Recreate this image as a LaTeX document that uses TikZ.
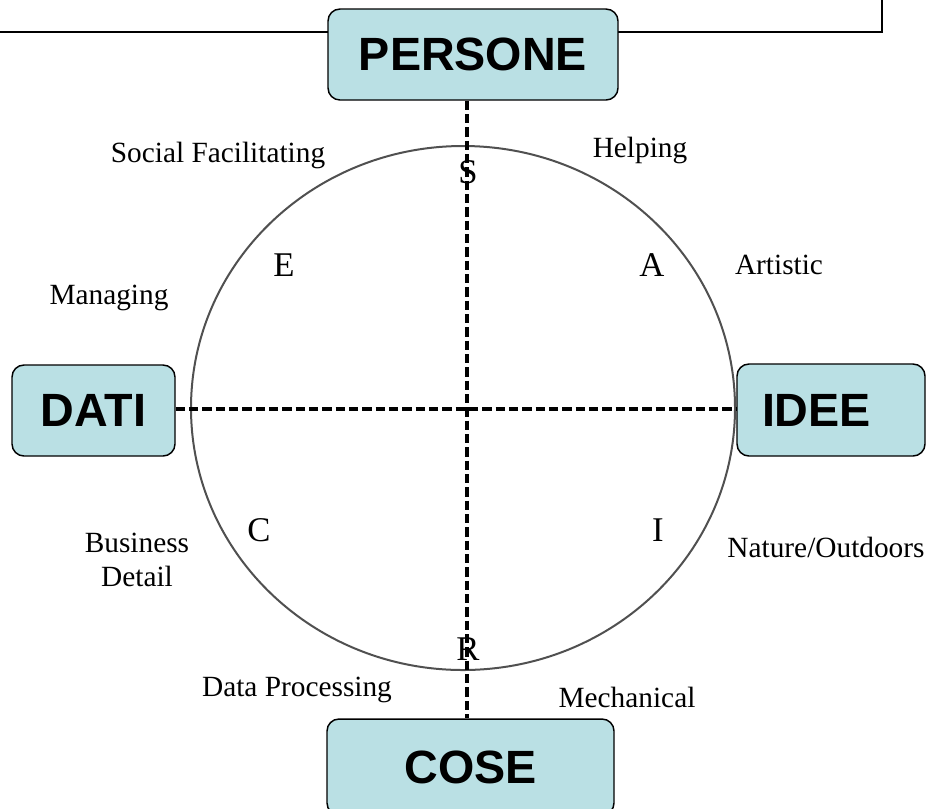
\documentclass[tikz,border=0pt]{standalone}
\usepackage{fontspec}
\setmainfont{Liberation Serif}
\newfontfamily\boxfont{Liberation Sans}
\definecolor{boxcyan}{RGB}{186,224,228}
\definecolor{ringgray}{RGB}{80,80,80}
\tikzset{every picture/.style={line width=0.75pt}}
\tikzset{
  catbox/.style={draw=black, line width=1.1pt, fill=boxcyan, rounded corners=9pt, inner sep=0pt, font=\boxfont\bfseries\fontsize{35}{40}\selectfont},
  axisline/.style={line width=2.7pt, dash pattern=on 7pt off 3pt},
  typelabel/.style={inner sep=0.75pt, font=\fontsize{26}{30}\selectfont},
  arealabel/.style={inner sep=0.75pt, font=\fontsize{22}{25.5}\selectfont, align=center},
}

\begin{document}
\begin{tikzpicture}[x=0.75pt,y=0.75pt,yscale=-1,xscale=1]
\useasboundingbox (0,0) rectangle (927,808);

%Straight Lines
\draw [line width=1.2pt] (0,32) -- (882,32) -- (882,0) ;
%Shape: Ellipse
\draw [color=ringgray, line width=1.5pt] (463,408) ellipse [x radius=272, y radius=262] ;

%Shape: Rounded Rect
\node [catbox, minimum width=217.5pt, minimum height=68.25pt] (persone) at (473,54.5) {PERSONE};
%Shape: Rounded Rect
\node [catbox, minimum width=122.25pt, minimum height=68.25pt] (dati) at (93.5,410.5) {DATI};
%Shape: Rounded Rect
\node [catbox, minimum height=69pt, text width=103.5pt, inner xsep=18.75pt, align=left] (idee) at (831,410) {IDEE};
%Shape: Rounded Rect
\node [catbox, minimum width=215.25pt, minimum height=72pt] (cose) at (470.5,767) {COSE};

%Dashed Lines
\coordinate (ctr) at (467,409);
\draw [axisline] (persone.south -| ctr) -- (cose.north -| ctr) ;
\draw [axisline] (dati.east |- ctr) -- (idee.west |- ctr) ;

% Text Node
\draw (468,172) node [typelabel] (s) {S};
\draw (284,265) node [typelabel] (e) {E};
\draw (652,265) node [typelabel] (a) {A};
\draw (259,530) node [typelabel] (c) {C};
\draw (658,530) node [typelabel] (i) {I};
\draw (468,649) node [typelabel] (r) {R};

% Text Node
\draw (218,155) node [arealabel] (social) {Social Facilitating};
\draw (640,150) node [arealabel] (helping) {Helping};
\draw (779,265) node [arealabel] (artistic) {Artistic};
\draw (109,298) node [arealabel] (managing) {Managing};
\draw (137,560) node [arealabel] (business) {Business\\Detail};
\draw (826,547) node [arealabel] (nature) {Nature/Outdoors};
\draw (297,690) node [arealabel] (dataproc) {Data Processing};
\draw (627,697) node [arealabel] (mechanical) {Mechanical};

\end{tikzpicture}
\end{document}
